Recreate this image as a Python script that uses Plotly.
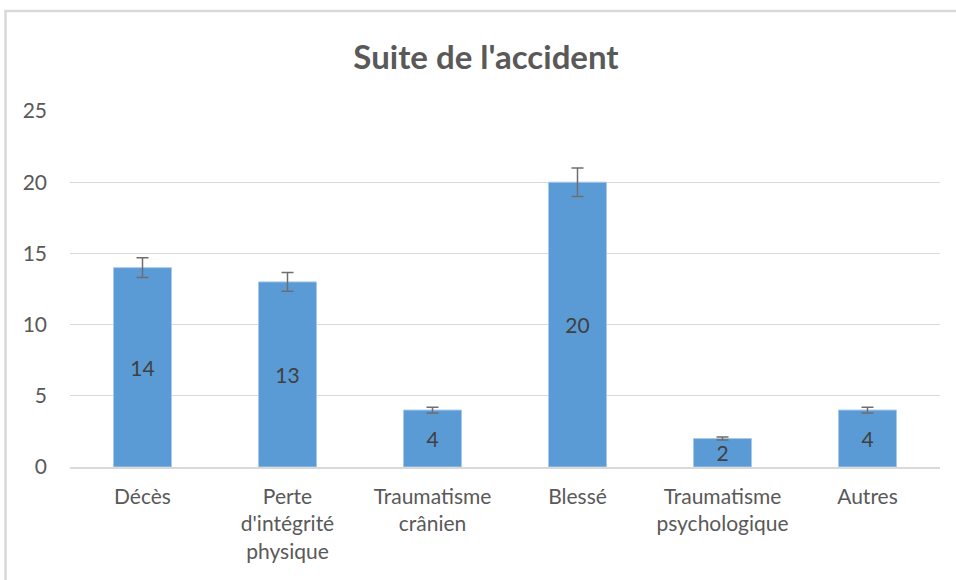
import plotly.graph_objects as go

categories = ["Décès", "Perte<br>d'intégrité<br>physique", "Traumatisme<br>crânien",
              "Blessé", "Traumatisme<br>psychologique", "Autres"]
values = [14, 13, 4, 20, 2, 4]
error_percent = 5
y_ticks = [0, 5, 10, 15, 20, 25]

L, R, T, B = 70, 16, 111, 113
W, H = 956, 580
pw, ph = W - L - R, H - T - B

fig = go.Figure()
fig.add_trace(go.Bar(
    x=categories, y=values,
    marker=dict(color="#5B9BD5", line=dict(color="#A9C8EA", width=1)),
    text=[str(v) for v in values],
    textposition="inside", insidetextanchor="middle",
    textangle=0, constraintext="none",
    textfont=dict(family="Lato", size=21, color="#404040"),
    error_y=dict(type="percent", value=error_percent, color="#6E6E6E",
                 thickness=1.5, width=6),
    hoverinfo="x+y",
))

# outer frame (top and left edges)
fx0 = (5.5 - L) / pw
fy1 = (H - B - 11) / ph
fx1 = (W + 5 - L) / pw
fy0 = (H - B - (H + 5)) / ph
fig.add_shape(type="path", xref="paper", yref="paper",
              path=f"M {fx0} {fy0} L {fx0} {fy1} L {fx1} {fy1}",
              line=dict(color="#D9D9D9", width=2.5))

fig.update_layout(
    width=W, height=H,
    margin=dict(l=L, r=R, t=T, b=B),
    paper_bgcolor="white", plot_bgcolor="white",
    bargap=0.6,
    showlegend=False,
    title=dict(text="<b>Suite de l'accident</b>", x=486 / W,
               xanchor="center", y=1 - 57 / H, yanchor="middle",
               font=dict(family="Lato", size=33, color="#595959")),
    font=dict(family="Lato", size=21, color="#595959"),
    xaxis=dict(showline=True, linecolor="#D9D9D9", linewidth=1.5, ticks="",
               ticklabelstandoff=10,
               tickfont=dict(family="Lato", size=21, color="#595959")),
    yaxis=dict(range=[0, 25], tickvals=y_ticks, showgrid=True, gridcolor="#D9D9D9",
               gridwidth=1, zeroline=False, ticks="", ticklen=0,
               ticklabelstandoff=22,
               tickfont=dict(family="Lato", size=21, color="#595959")),
)

fig.write_html("out.html", config={"displayModeBar": False},
               post_script="document.body.style.margin='0';")
